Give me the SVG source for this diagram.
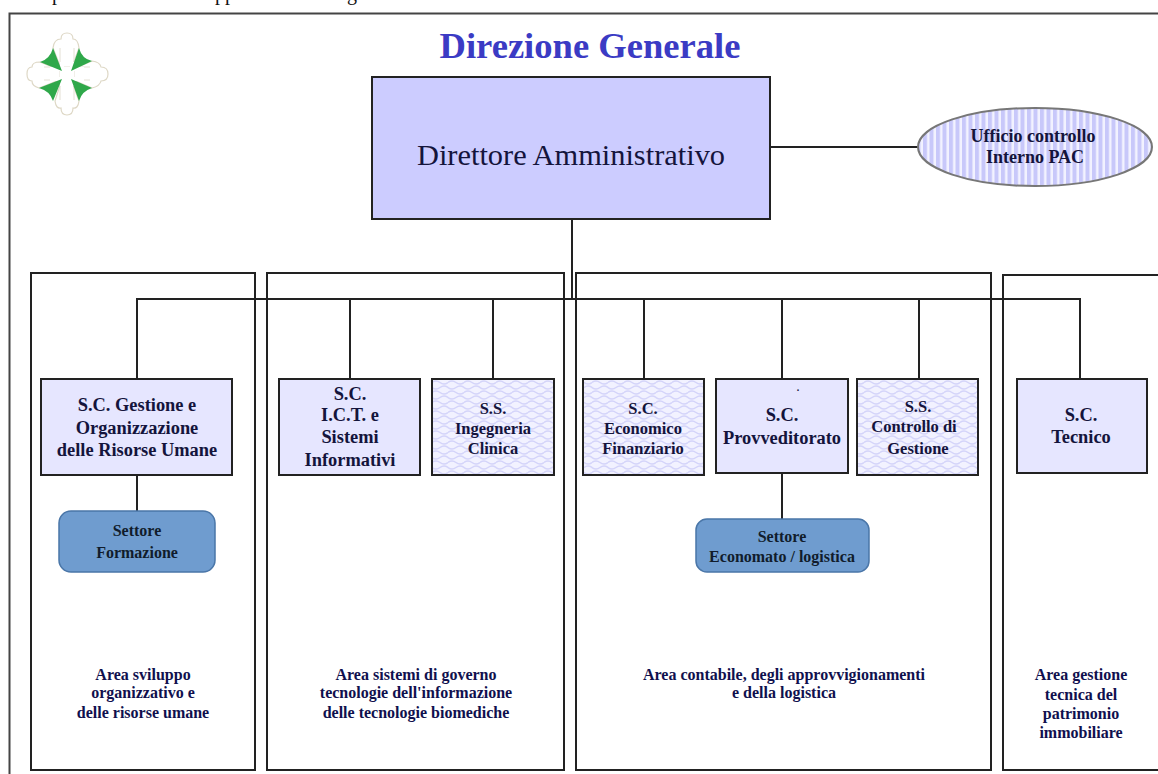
<svg xmlns="http://www.w3.org/2000/svg" width="1158" height="774" viewBox="0 0 1158 774">
<style>
text{font-family:"Liberation Serif","Times New Roman",serif;font-weight:bold;text-anchor:middle;fill:#14143c}
.ln{fill:none;stroke:#222;stroke-width:2}
.area{fill:#fff;stroke:#222;stroke-width:2}
.sc{fill:#e6e6ff;stroke:#222;stroke-width:2}
.ss{fill:url(#wave);stroke:#222;stroke-width:2}
.set{fill:#6f9ccf;stroke:#4a76a8;stroke-width:1.5}
.head{font-size:20px;font-weight:normal;fill:#111}
.t0{font-size:18px}.t1{font-size:18.4px}.t2{font-size:16.5px}.t3{font-size:16px}
.dark{fill:#111c2c}
.blue{fill:#10104e}
</style>
<defs>
<pattern id="wave" width="16" height="10" patternUnits="userSpaceOnUse">
<rect width="16" height="10" fill="#f2f2ff"/>
<path d="M0 2.5Q4 -0.5 8 2.5T16 2.5M-8 7.5Q-4 4.5 0 7.5T8 7.5T16 7.5T24 7.5" fill="none" stroke="#d4d4fa" stroke-width="1.5"/>
</pattern>
<pattern id="stripe" width="6.5" height="8" patternUnits="userSpaceOnUse">
<rect width="6.5" height="8" fill="#f2f2ff"/>
<rect width="4" height="8" fill="#c8c8fa"/>
</pattern>
</defs>
<rect width="1158" height="774" fill="#fff"/>
<g id="clipped-header">
<text x="57" y="0" class="head">p</text>
<text x="225" y="0" class="head">pp</text>
<text x="352" y="0" class="head">g</text>
</g>
<path id="frame" d="M9.5 774V13.5H1158" fill="none" stroke="#444" stroke-width="2"/>
<g id="logo">
<path d="M67 33q6 0 6 6q5 0 6 9L71 70L92 61q8 1 9 6q7 0 7 7t-7 7q-1 5-9 7L71 79L79 101q-1 8-6 7q0 7-6 7t-6-7q-5 1-6-7L62 79L39 88q-7-2-7-7q-5 0-5-7t5-7q0-5 8-5L62 71L53 48q1-9 8-9q0-6 6-6z" fill="#fff" stroke="#ded8c6" stroke-width="1.2"/>
<path d="M60 48V100M74 48V100M44 67H90M44 80H90" fill="none" stroke="#e4e0d4" stroke-width="1"/>
<path d="M62 62V86M72 62V86M50 69H84M50 79H84" fill="none" stroke="#fff" stroke-width="4"/>
<path d="M53 48L62 71L40 62Q50 59 53 48zM79 48L71 71L92 61Q82 59 79 48zM39 88L62 79L53 101Q50 91 39 88zM92 88L71 79L79 101Q82 91 92 88z" fill="#2fa84a"/>
</g>
<g id="areas">
<rect id="area-1" class="area" x="31" y="273" width="224" height="497"/>
<rect id="area-2" class="area" x="267" y="273" width="297" height="497"/>
<rect id="area-3" class="area" x="576" y="273" width="415" height="497"/>
<path id="area-4" class="area" d="M1160 275H1003V770H1160"/>
</g>
<g id="connectors" class="ln">
<path d="M770 147H918"/>
<path d="M572 219V299"/>
<path d="M137 379V299H1080V379"/>
<path d="M350 299V379M493 299V379M644 299V379M782 299V379M919 299V379"/>
<path d="M137 475V511M782 473V519"/>
</g>
<g id="title"><text x="590" y="58" style="font-size:36.6px;fill:#3b3bc4">Direzione Generale</text></g>
<g id="direttore"><rect x="372" y="77" width="398" height="142" fill="#ccccff" stroke="#222" stroke-width="2"/><text x="571" y="165" style="font-size:30.4px;font-weight:normal">Direttore Amministrativo</text></g>
<g id="ufficio"><ellipse cx="1035" cy="147" rx="117" ry="39" fill="url(#stripe)" stroke="#777" stroke-width="2"/><text x="1033" y="142" class="t0">Ufficio controllo</text><text x="1035" y="163" class="t0">Interno PAC</text></g>
<g id="sc-gestione"><rect class="sc" x="41" y="379" width="191" height="96"/><text x="137" y="411" class="t1">S.C. Gestione e</text><text x="137" y="434" class="t1">Organizzazione</text><text x="137" y="456" class="t1">delle Risorse Umane</text></g>
<g id="sc-ict"><rect class="sc" x="279" y="379" width="141" height="96"/><text x="350" y="400" class="t1">S.C.</text><text x="350" y="421" class="t1">I.C.T. e</text><text x="350" y="443" class="t1">Sistemi</text><text x="350" y="466" class="t1">Informativi</text></g>
<g id="ss-ingegneria"><rect class="ss" x="432" y="379" width="122" height="96"/><text x="493" y="414" class="t2">S.S.</text><text x="493" y="434" class="t2">Ingegneria</text><text x="493" y="454" class="t2">Clinica</text></g>
<g id="sc-economico"><rect class="ss" x="583" y="379" width="121" height="96"/><text x="643" y="414" class="t2">S.C.</text><text x="643" y="434" class="t2">Economico</text><text x="643" y="454" class="t2">Finanziario</text></g>
<g id="sc-provveditorato"><rect class="sc" x="716" y="379" width="132" height="94"/><text x="798" y="391" style="font-size:10px">.</text><text x="782" y="421" class="t1">S.C.</text><text x="782" y="444" class="t1">Provveditorato</text></g>
<g id="ss-controllo"><rect class="ss" x="857" y="379" width="121" height="96"/><text x="918" y="412" class="t2">S.S.</text><text x="914" y="432" class="t2">Controllo di</text><text x="918" y="454" class="t2">Gestione</text></g>
<g id="sc-tecnico"><rect class="sc" x="1017" y="379" width="130" height="94"/><text x="1081" y="421" class="t1">S.C.</text><text x="1081" y="443" class="t1">Tecnico</text></g>
<g id="settore-formazione"><rect class="set" x="59" y="511" width="156" height="61" rx="12"/><text x="137" y="536" class="t3 dark">Settore</text><text x="137" y="558" class="t3 dark">Formazione</text></g>
<g id="settore-economato"><rect class="set" x="696" y="519" width="173" height="53" rx="11"/><text x="782" y="542" class="t3 dark">Settore</text><text x="782" y="562" class="t3 dark">Economato / logistica</text></g>
<g id="label-area-1"><text x="143" y="680" class="t3 blue">Area sviluppo</text><text x="143" y="698" class="t3 blue">organizzativo e</text><text x="143" y="718" class="t3 blue">delle risorse umane</text></g>
<g id="label-area-2"><text x="416" y="680" class="t3 blue">Area sistemi di governo</text><text x="416" y="698" class="t3 blue">tecnologie dell'informazione</text><text x="416" y="718" class="t3 blue">delle tecnologie biomediche</text></g>
<g id="label-area-3"><text x="784" y="680" class="t3 blue">Area contabile, degli approvvigionamenti</text><text x="784" y="698" class="t3 blue">e della logistica</text></g>
<g id="label-area-4"><text x="1081" y="680" class="t3 blue">Area gestione</text><text x="1081" y="700" class="t3 blue">tecnica del</text><text x="1081" y="719" class="t3 blue">patrimonio</text><text x="1081" y="738" class="t3 blue">immobiliare</text></g>
</svg>
